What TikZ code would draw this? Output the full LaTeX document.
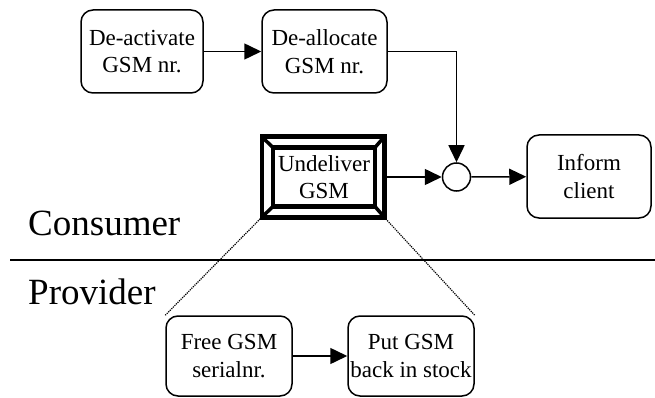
\documentclass[tikz,border=0pt]{standalone}
\usepackage{fontspec}
\setmainfont{Liberation Serif}
\usetikzlibrary{arrows.meta}
\begin{document}
\begin{tikzpicture}[x=1pt,y=-1pt,
  proc/.style={draw,line width=1.5pt,rounded corners=12pt,align=center,
    font=\fontsize{23}{27.6}\selectfont,inner sep=0pt,
    minimum width=124pt,minimum height=83pt},
  frame/.style={draw,line width=4.5pt,inner sep=0pt,outer sep=0pt},
  flow/.style={line width=1.5pt,-{Triangle[length=17pt,width=16pt]}},
  link/.style={line width=1.2pt,dash pattern=on 1.2pt off 1pt},
  lane/.style={font=\fontsize{37}{40}\selectfont,anchor=base west,inner sep=0pt}]
\useasboundingbox (0,0) rectangle (655,398);

% consumer side processes
\node[proc,minimum width=122pt] (deact) at (142,51.5) {De-activate\\GSM nr.};
\node[proc,minimum width=125pt] (dealloc) at (324.5,51.5) {De-allocate\\GSM nr.};
\node[proc] (inform) at (589,176.5) {Inform\\client};

% decomposed process: double bevelled frame
\node[frame,minimum width=122.5pt,minimum height=80.5pt] (und) at (323,177) {};
\node[frame,minimum width=102pt,minimum height=59pt,align=center,
  font=\fontsize{23}{27.6}\selectfont] (undin) at (324,177) {Undeliver\\GSM};
\foreach \c in {north west,north east,south west,south east}
  \draw[line width=3.5pt] (und.\c) -- (undin.\c);

% join
\node[draw,circle,line width=1.5pt,minimum size=28pt,inner sep=0pt] (join) at (456.5,177) {};

% provider side processes
\node[proc,minimum width=126pt,minimum height=80pt] (free) at (229,356) {Free GSM\\serialnr.};
\node[proc,minimum width=126pt,minimum height=80pt] (back) at (411,356) {Put GSM\\back in stock};

% lanes
\node[lane] (consumer) at (28,235) {Consumer};
\node[lane] (provider) at (28,304) {Provider};
\coordinate (divl) at (10,260);
\coordinate (divr) at (655,260);
\draw[line width=1.5pt] (divl) -- (divr);

% flows
\draw[flow] (deact) -- (dealloc);
\draw[flow] (dealloc.east) -| (join.north);
\draw[flow] (und.east) -- (join.west);
\draw[flow] (join) -- (inform);
\draw[flow] (free) -- (back);

% refinement links
\draw[link] (und.south west) -- (free.north west);
\draw[link] (und.south east) -- (back.north east);
\end{tikzpicture}
\end{document}
